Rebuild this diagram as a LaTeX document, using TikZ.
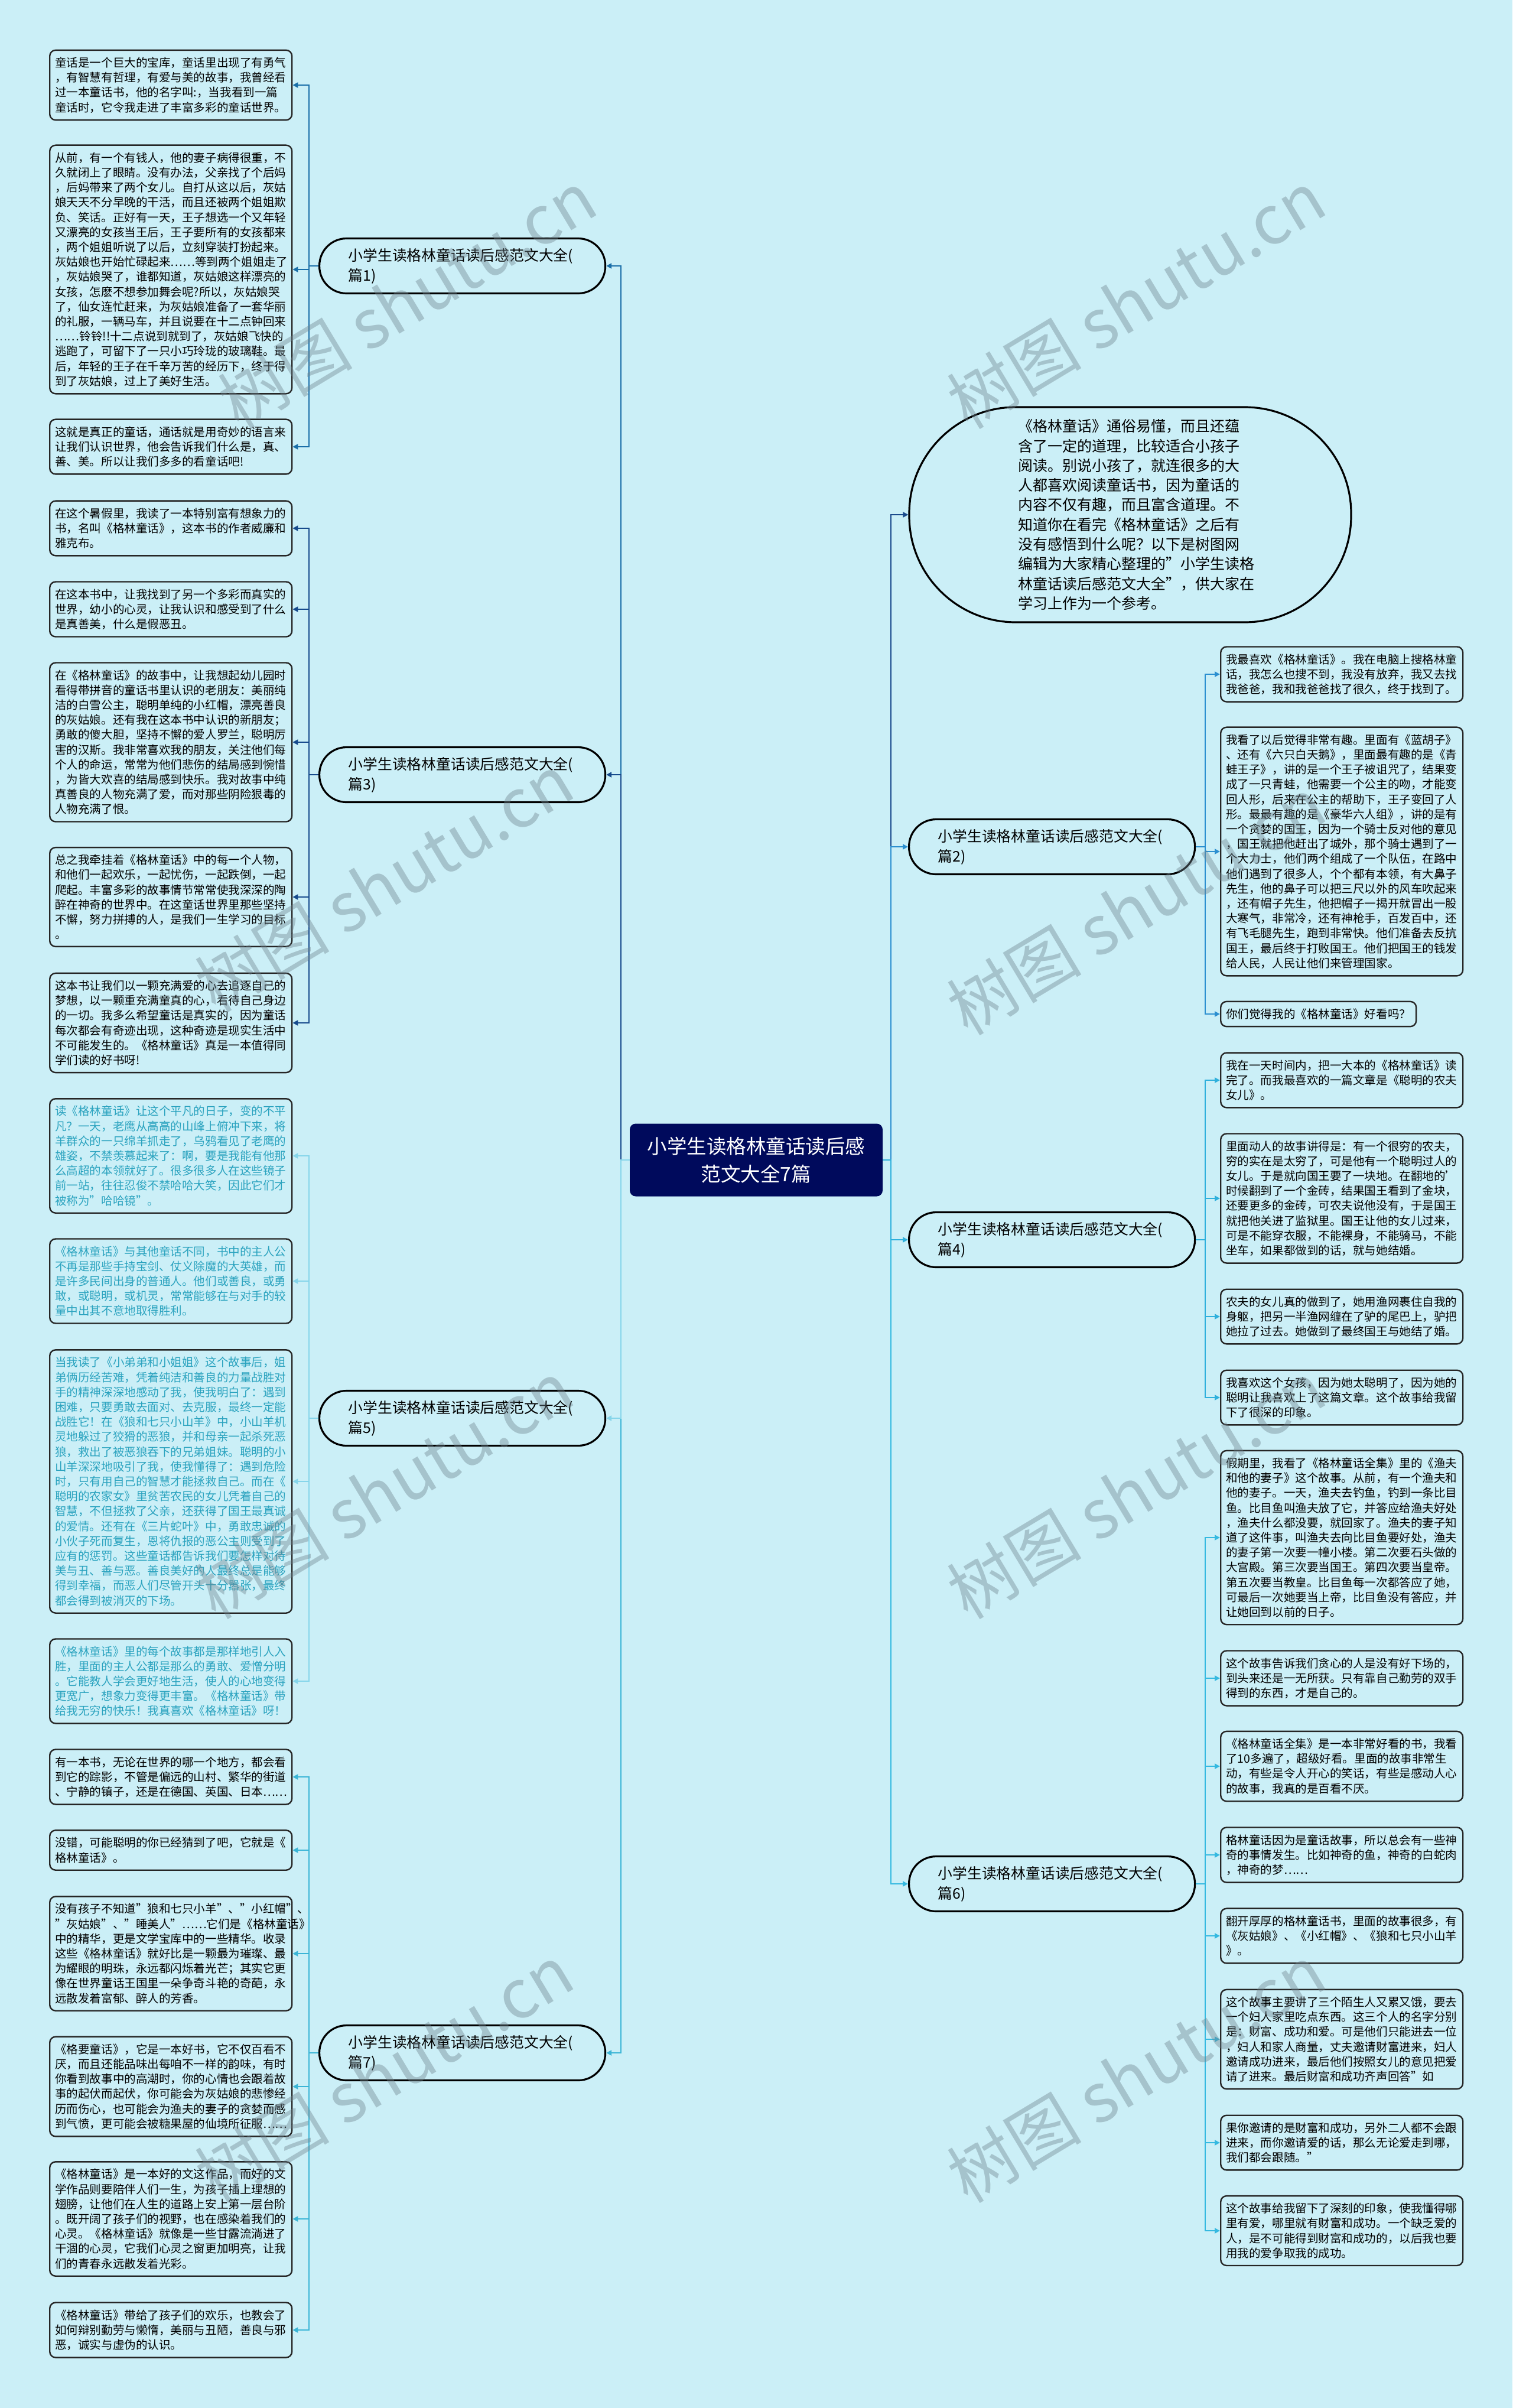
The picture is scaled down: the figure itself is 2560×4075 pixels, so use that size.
\documentclass[tikz,border=0pt]{standalone}
\usepackage{fontspec}
\setmainfont{Noto Sans CJK SC}
\usetikzlibrary{arrows.meta,calc}
\definecolor{bg}{RGB}{203,239,247}
\definecolor{navy}{RGB}{0,10,92}
\definecolor{cA}{RGB}{26,110,168}
\definecolor{cB}{RGB}{23,74,140}
\definecolor{cC}{RGB}{134,213,234}
\definecolor{cD}{RGB}{59,181,214}
\definecolor{cE}{RGB}{26,74,140}
\definecolor{cF}{RGB}{44,143,208}
\definecolor{cG}{RGB}{47,176,220}
\definecolor{cH}{RGB}{53,185,224}
\definecolor{tealtext}{RGB}{43,163,191}
\definecolor{wmcol}{RGB}{110,130,140}
\tikzset{
  leaf/.style={draw=black!85, line width=1.2pt, rounded corners=5pt, fill=bg,
    text width=196pt, align=left, inner xsep=4.5pt, inner ysep=6pt,
    font=\fontsize{9.78pt}{12.6pt}\selectfont, anchor=west},
  leafshort/.style={draw=black!85, line width=1.2pt, rounded corners=5pt, fill=bg,
    align=left, inner xsep=4.5pt, inner ysep=6pt,
    font=\fontsize{9.78pt}{12.6pt}\selectfont, anchor=west},
  mid/.style={draw=black, line width=1.6pt, rounded corners=23pt, fill=bg,
    minimum height=46.5pt, text width=193pt, align=left, inner xsep=24.5pt,
    font=\fontsize{12.4pt}{17pt}\selectfont, anchor=west},
  central/.style={fill=navy, rounded corners=5pt, minimum width=214pt,
    minimum height=61.5pt, text=white, align=center,
    font=\fontsize{16.75pt}{23.3pt}\selectfont},
  intro/.style={draw=black, line width=1.6pt, rounded corners=90pt, fill=bg,
    minimum width=374pt, minimum height=182pt, text width=190pt, align=left,
    font=\fontsize{12.5pt}{16.65pt}\selectfont},
  conn/.style={line width=1.3pt, -{Triangle[length=4.5pt,width=4.5pt]}},
  wm/.style={rotate=31, text=wmcol, text opacity=0.4,
    font=\fontsize{57pt}{57pt}\selectfont}
}
\begin{document}
\begin{tikzpicture}[x=0.5pt,y=-0.5pt]
\fill[bg] (0,0) rectangle (2560,4075);
\useasboundingbox (0,0) rectangle (2560,4075);
\coordinate (xtl) at (1051,0);
\coordinate (xtr) at (1508,0);
\coordinate (xll) at (523,0);
\coordinate (xlr) at (2040,0);

% central and branches
\node[central] (C) at (1280,1963) {小学生读格林童话读后感\\范文大全7篇};
\node[intro] (E) at (1913,871) {《格林童话》通俗易懂，而且还蕴\\含了一定的道理，比较适合小孩子\\阅读。别说小孩了，就连很多的大\\人都喜欢阅读童话书，因为童话的\\内容不仅有趣，而且富含道理。不\\知道你在看完《格林童话》之后有\\没有感悟到什么呢？以下是树图网\\编辑为大家精心整理的"小学生读格\\林童话读后感范文大全"，供大家在\\学习上作为一个参考。};
\node[mid] (M1) at (539,450) {小学生读格林童话读后感范文大全(\\篇1)};
\node[mid] (M3) at (539,1311) {小学生读格林童话读后感范文大全(\\篇3)};
\node[mid] (M5) at (539,2400) {小学生读格林童话读后感范文大全(\\篇5)};
\node[mid] (M7) at (539,3474) {小学生读格林童话读后感范文大全(\\篇7)};
\node[mid] (M2) at (1537,1433) {小学生读格林童话读后感范文大全(\\篇2)};
\node[mid] (M4) at (1537,2098) {小学生读格林童话读后感范文大全(\\篇4)};
\node[mid] (M6) at (1537,3188) {小学生读格林童话读后感范文大全(\\篇6)};

% left leaves
\node[leaf] (L1) at (83,144) {童话是一个巨大的宝库，童话里出现了有勇气\\，有智慧有哲理，有爱与美的故事，我曾经看\\过一本童话书，他的名字叫:，当我看到一篇\\童话时，它令我走进了丰富多彩的童话世界。};
\node[leaf] (L2) at (83,456) {从前，有一个有钱人，他的妻子病得很重，不\\久就闭上了眼睛。没有办法，父亲找了个后妈\\，后妈带来了两个女儿。自打从这以后，灰姑\\娘天天不分早晚的干活，而且还被两个姐姐欺\\负、笑话。正好有一天，王子想选一个又年轻\\又漂亮的女孩当王后，王子要所有的女孩都来\\，两个姐姐听说了以后，立刻穿装打扮起来。\\灰姑娘也开始忙碌起来……等到两个姐姐走了\\，灰姑娘哭了，谁都知道，灰姑娘这样漂亮的\\女孩，怎麽不想参加舞会呢?所以，灰姑娘哭\\了，仙女连忙赶来，为灰姑娘准备了一套华丽\\的礼服，一辆马车，并且说要在十二点钟回来\\……铃铃!!十二点说到就到了，灰姑娘飞快的\\逃跑了，可留下了一只小巧玲珑的玻璃鞋。最\\后，年轻的王子在千辛万苦的经历下，终于得\\到了灰姑娘，过上了美好生活。};
\node[leaf] (L3) at (83,756) {这就是真正的童话，通话就是用奇妙的语言来\\让我们认识世界，他会告诉我们什么是，真、\\善、美。所以让我们多多的看童话吧!};
\node[leaf] (L4) at (83,894) {在这个暑假里，我读了一本特别富有想象力的\\书，名叫《格林童话》，这本书的作者威廉和\\雅克布。};
\node[leaf] (L5) at (83,1031) {在这本书中，让我找到了另一个多彩而真实的\\世界，幼小的心灵，让我认识和感受到了什么\\是真善美，什么是假恶丑。};
\node[leaf] (L6) at (83,1256) {在《格林童话》的故事中，让我想起幼儿园时\\看得带拼音的童话书里认识的老朋友：美丽纯\\洁的白雪公主，聪明单纯的小红帽，漂亮善良\\的灰姑娘。还有我在这本书中认识的新朋友；\\勇敢的傻大胆，坚持不懈的爱人罗兰，聪明厉\\害的汉斯。我非常喜欢我的朋友，关注他们每\\个人的命运，常常为他们悲伤的结局感到惋惜\\，为皆大欢喜的结局感到快乐。我对故事中纯\\真善良的人物充满了爱，而对那些阴险狠毒的\\人物充满了恨。};
\node[leaf] (L7) at (83,1518) {总之我牵挂着《格林童话》中的每一个人物，\\和他们一起欢乐，一起忧伤，一起跌倒，一起\\爬起。丰富多彩的故事情节常常使我深深的陶\\醉在神奇的世界中。在这童话世界里那些坚持\\不懈，努力拼搏的人，是我们一生学习的目标\\。};
\node[leaf] (L8) at (83,1731) {这本书让我们以一颗充满爱的心去追逐自己的\\梦想，以一颗重充满童真的心，看待自己身边\\的一切。我多么希望童话是真实的，因为童话\\每次都会有奇迹出现，这种奇迹是现实生活中\\不可能发生的。《格林童话》真是一本值得同\\学们读的好书呀!};
\node[leaf,text=tealtext] (L9) at (83,1956) {读《格林童话》让这个平凡的日子，变的不平\\凡？一天，老鹰从高高的山峰上俯冲下来，将\\羊群众的一只绵羊抓走了，乌鸦看见了老鹰的\\雄姿，不禁羡慕起来了：啊，要是我能有他那\\么高超的本领就好了。很多很多人在这些镜子\\前一站，往往忍俊不禁哈哈大笑，因此它们才\\被称为"哈哈镜"。};
\node[leaf,text=tealtext] (L10) at (83,2168) {《格林童话》与其他童话不同，书中的主人公\\不再是那些手持宝剑、仗义除魔的大英雄，而\\是许多民间出身的普通人。他们或善良，或勇\\敢，或聪明，或机灵，常常能够在与对手的较\\量中出其不意地取得胜利。};
\node[leaf,text=tealtext] (L11) at (83,2507) {当我读了《小弟弟和小姐姐》这个故事后，姐\\弟俩历经苦难，凭着纯洁和善良的力量战胜对\\手的精神深深地感动了我，使我明白了：遇到\\困难，只要勇敢去面对、去克服，最终一定能\\战胜它！在《狼和七只小山羊》中，小山羊机\\灵地躲过了狡猾的恶狼，并和母亲一起杀死恶\\狼，救出了被恶狼吞下的兄弟姐妹。聪明的小\\山羊深深地吸引了我，使我懂得了：遇到危险\\时，只有用自己的智慧才能拯救自己。而在《\\聪明的农家女》里贫苦农民的女儿凭着自己的\\智慧，不但拯救了父亲，还获得了国王最真诚\\的爱情。还有在《三片蛇叶》中，勇敢忠诚的\\小伙子死而复生，恩将仇报的恶公主则受到了\\应有的惩罚。这些童话都告诉我们要怎样对待\\美与丑、善与恶。善良美好的人最终总是能够\\得到幸福，而恶人们尽管开头十分嚣张，最终\\都会得到被消灭的下场。};
\node[leaf,text=tealtext] (L12) at (83,2845) {《格林童话》里的每个故事都是那样地引人入\\胜，里面的主人公都是那么的勇敢、爱憎分明\\。它能教人学会更好地生活，使人的心地变得\\更宽广，想象力变得更丰富。《格林童话》带\\给我无穷的快乐！我真喜欢《格林童话》呀！};
\node[leaf] (L13) at (83,3007) {有一本书，无论在世界的哪一个地方，都会看\\到它的踪影，不管是偏远的山村、繁华的街道\\、宁静的镇子，还是在德国、英国、日本……};
\node[leaf] (L14) at (83,3131) {没错，可能聪明的你已经猜到了吧，它就是《\\格林童话》。};
\node[leaf] (L15) at (83,3306) {没有孩子不知道"狼和七只小羊"、"小红帽"、\\"灰姑娘"、"睡美人"……它们是《格林童话》\\中的精华，更是文学宝库中的一些精华。收录\\这些《格林童话》就好比是一颗最为璀璨、最\\为耀眼的明珠，永远都闪烁着光芒；其实它更\\像在世界童话王国里一朵争奇斗艳的奇葩，永\\远散发着富郁、醉人的芳香。};
\node[leaf] (L16) at (83,3531) {《格要童话》，它是一本好书，它不仅百看不\\厌，而且还能品味出每咱不一样的韵味，有时\\你看到故事中的高潮时，你的心情也会跟着故\\事的起伏而起伏，你可能会为灰姑娘的悲惨经\\历而伤心，也可能会为渔夫的妻子的贪婪而感\\到气愤，更可能会被糖果屋的仙境所征服……};
\node[leaf] (L17) at (83,3755) {《格林童话》是一本好的文这作品，而好的文\\学作品则要陪伴人们一生，为孩子插上理想的\\翅膀，让他们在人生的道路上安上第一层台阶\\。既开阔了孩子们的视野，也在感染着我们的\\心灵。《格林童话》就像是一些甘露流淌进了\\干涸的心灵，它我们心灵之窗更加明亮，让我\\们的青春永远散发着光彩。};
\node[leaf] (L18) at (83,3943) {《格林童话》带给了孩子们的欢乐，也教会了\\如何辩别勤劳与懒惰，美丽与丑陋，善良与邪\\恶，诚实与虚伪的认识。};

% right leaves
\node[leaf] (R1) at (2065,1141) {我最喜欢《格林童话》。我在电脑上搜格林童\\话，我怎么也搜不到，我没有放弃，我又去找\\我爸爸，我和我爸爸找了很久，终于找到了。};
\node[leaf] (R2) at (2065,1441) {我看了以后觉得非常有趣。里面有《蓝胡子》\\、还有《六只白天鹅》，里面最有趣的是《青\\蛙王子》，讲的是一个王子被诅咒了，结果变\\成了一只青蛙，他需要一个公主的吻，才能变\\回人形，后来在公主的帮助下，王子变回了人\\形。最最有趣的是《豪华六人组》，讲的是有\\一个贪婪的国王，因为一个骑士反对他的意见\\，国王就把他赶出了城外，那个骑士遇到了一\\个大力士，他们两个组成了一个队伍，在路中\\他们遇到了很多人，个个都有本领，有大鼻子\\先生，他的鼻子可以把三尺以外的风车吹起来\\，还有帽子先生，他把帽子一揭开就冒出一股\\大寒气，非常冷，还有神枪手，百发百中，还\\有飞毛腿先生，跑到非常快。他们准备去反抗\\国王，最后终于打败国王。他们把国王的钱发\\给人民，人民让他们来管理国家。};
\node[leafshort] (R3) at (2065,1716) {你们觉得我的《格林童话》好看吗？};
\node[leaf] (R4) at (2065,1828) {我在一天时间内，把一大本的《格林童话》读\\完了。而我最喜欢的一篇文章是《聪明的农夫\\女儿》。};
\node[leaf] (R5) at (2065,2028) {里面动人的故事讲得是：有一个很穷的农夫，\\穷的实在是太穷了，可是他有一个聪明过人的\\女儿。于是就向国王要了一块地。在翻地的'\\时候翻到了一个金砖，结果国王看到了金块，\\还要更多的金砖，可农夫说他没有，于是国王\\就把他关进了监狱里。国王让他的女儿过来，\\可是不能穿衣服，不能裸身，不能骑马，不能\\坐车，如果都做到的话，就与她结婚。};
\node[leaf] (R6) at (2065,2228) {农夫的女儿真的做到了，她用渔网裹住自我的\\身躯，把另一半渔网缠在了驴的尾巴上，驴把\\她拉了过去。她做到了最终国王与她结了婚。};
\node[leaf] (R7) at (2065,2365) {我喜欢这个女孩，因为她太聪明了，因为她的\\聪明让我喜欢上了这篇文章。这个故事给我留\\下了很深的印象。};
\node[leaf] (R8) at (2065,2602) {假期里，我看了《格林童话全集》里的《渔夫\\和他的妻子》这个故事。从前，有一个渔夫和\\他的妻子。一天，渔夫去钓鱼，钓到一条比目\\鱼。比目鱼叫渔夫放了它，并答应给渔夫好处\\，渔夫什么都没要，就回家了。渔夫的妻子知\\道了这件事，叫渔夫去向比目鱼要好处，渔夫\\的妻子第一次要一幢小楼。第二次要石头做的\\大宫殿。第三次要当国王。第四次要当皇帝。\\第五次要当教皇。比目鱼每一次都答应了她，\\可最后一次她要当上帝，比目鱼没有答应，并\\让她回到以前的日子。};
\node[leaf] (R9) at (2065,2840) {这个故事告诉我们贪心的人是没有好下场的，\\到头来还是一无所获。只有靠自己勤劳的双手\\得到的东西，才是自己的。};
\node[leaf] (R10) at (2065,2989) {《格林童话全集》是一本非常好看的书，我看\\了10多遍了，超级好看。里面的故事非常生\\动，有些是令人开心的笑话，有些是感动人心\\的故事，我真的是百看不厌。};
\node[leaf] (R11) at (2065,3139) {格林童话因为是童话故事，所以总会有一些神\\奇的事情发生。比如神奇的鱼，神奇的白蛇肉\\，神奇的梦……};
\node[leaf] (R12) at (2065,3276) {翻开厚厚的格林童话书，里面的故事很多，有\\《灰姑娘》、《小红帽》、《狼和七只小山羊\\》。};
\node[leaf] (R13) at (2065,3451) {这个故事主要讲了三个陌生人又累又饿，要去\\一个妇人家里吃点东西。这三个人的名字分别\\是：财富、成功和爱。可是他们只能进去一位\\，妇人和家人商量，丈夫邀请财富进来，妇人\\邀请成功进来，最后他们按照女儿的意见把爱\\请了进来。最后财富和成功齐声回答"如};
\node[leaf] (R14) at (2065,3626) {果你邀请的是财富和成功，另外二人都不会跟\\进来，而你邀请爱的话，那么无论爱走到哪，\\我们都会跟随。"};
\node[leaf] (R15) at (2065,3775) {这个故事给我留下了深刻的印象，使我懂得哪\\里有爱，哪里就有财富和成功。一个缺乏爱的\\人，是不可能得到财富和成功的，以后我也要\\用我的爱争取我的成功。};

% central -> branches
\draw[conn,cA] (C.west) -- (C.west -| xtl) |- (M1.east);
\draw[conn,cB] (C.west) -- (C.west -| xtl) |- (M3.east);
\draw[conn,cD] (C.west) -- (C.west -| xtl) |- (M7.east);
\draw[conn,cC] (C.west) -- (C.west -| xtl) |- (M5.east);
\draw[conn,cE] (C.east) -- (C.east -| xtr) |- (E.west);
\draw[conn,cF] (C.east) -- (C.east -| xtr) |- (M2.west);
\draw[conn,cH] (C.east) -- (C.east -| xtr) |- (M6.west);
\draw[conn,cG] (C.east) -- (C.east -| xtr) |- (M4.west);

% left leaves
\foreach \l in {L1,L2,L3}{\draw[conn,cA] (M1.west) -- (M1.west -| xll) |- (\l.east);}
\foreach \l in {L4,L5,L6,L7,L8}{\draw[conn,cB] (M3.west) -- (M3.west -| xll) |- (\l.east);}
\foreach \l in {L9,L10,L11,L12}{\draw[conn,cC] (M5.west) -- (M5.west -| xll) |- (\l.east);}
\foreach \l in {L13,L14,L15,L16,L17,L18}{\draw[conn,cD] (M7.west) -- (M7.west -| xll) |- (\l.east);}
% right leaves
\foreach \l in {R1,R2,R3}{\draw[conn,cF] (M2.east) -- (M2.east -| xlr) |- (\l.west);}
\foreach \l in {R4,R5,R6,R7}{\draw[conn,cG] (M4.east) -- (M4.east -| xlr) |- (\l.west);}
\foreach \l in {R8,R9,R10,R11,R12,R13,R14,R15}{\draw[conn,cH] (M6.east) -- (M6.east -| xlr) |- (\l.west);}

% watermarks
\node[wm] (w1) at (1923,507) {树图 shutu.cn};
\node[wm] (w2) at (689,507) {树图 shutu.cn};
\node[wm] (w3) at (650,1494) {树图 shutu.cn};
\node[wm] (w4) at (1923,1533) {树图 shutu.cn};
\node[wm] (w5) at (650,2521) {树图 shutu.cn};
\node[wm] (w6) at (1923,2521) {树图 shutu.cn};
\node[wm] (w7) at (650,3509) {树图 shutu.cn};
\node[wm] (w8) at (1923,3509) {树图 shutu.cn};
\end{tikzpicture}
\end{document}
